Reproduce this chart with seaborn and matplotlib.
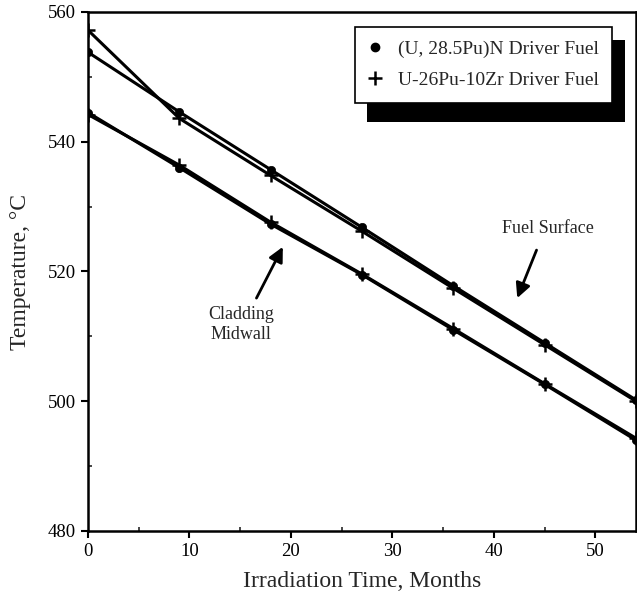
import matplotlib
matplotlib.use("Agg")
import matplotlib.pyplot as plt
from matplotlib.lines import Line2D
from matplotlib.patches import Rectangle
import seaborn as sns
import pandas as pd

months = [0, 9, 18, 27, 36, 45, 54]
surface_nitride = [553.8, 544.6, 535.7, 526.8, 517.8, 509.0, 500.2]
surface_metal = [557.2, 543.6, 534.8, 526.2, 517.4, 508.7, 500.0]
clad_nitride = [544.5, 536.0, 527.3, 519.5, 511.0, 502.6, 494.0]
clad_metal = [544.2, 536.4, 527.6, 519.6, 511.2, 502.7, 494.3]

fuel_labels = ["(U, 28.5Pu)N Driver Fuel", "U-26Pu-10Zr Driver Fuel"]
x_label = "Irradiation Time, Months"
y_label = "Temperature, \u00b0C"
x_ticks = [0, 10, 20, 30, 40, 50]
y_ticks = [480, 500, 520, 540, 560]

sns.set_theme(style="ticks")
plt.rcParams["font.family"] = ["Liberation Serif", "DejaVu Serif"]

fig = plt.figure(figsize=(6.37, 6.0), dpi=100)
ax = fig.add_axes([88 / 637, 1 - 531 / 600, (636 - 88) / 637, (531 - 12) / 600])

series = [
    (surface_nitride, "o"),
    (surface_metal, "+"),
    (clad_nitride, "o"),
    (clad_metal, "+"),
]
for vals, mk in series:
    df = pd.DataFrame({"t": months, "T": vals})
    sns.lineplot(data=df, x="t", y="T", ax=ax, color="black", linewidth=2.2,
                 marker=mk, markersize=6 if mk == "o" else 10,
                 markeredgewidth=1.8 if mk == "+" else 0.5,
                 markeredgecolor="black", estimator=None)

ax.set_xlim(0, 54)
ax.set_ylim(480, 560)
ax.set_xticks(x_ticks)
ax.set_yticks(y_ticks)
ax.set_xticks([5, 15, 25, 35, 45], minor=True)
ax.set_yticks([490, 510, 530, 550], minor=True)
ax.tick_params(axis="both", which="major", direction="out", length=5, width=1.5,
               labelsize=13.5, colors="black")
ax.tick_params(axis="both", which="minor", direction="in", length=3, width=1.2)
for s in ax.spines.values():
    s.set_linewidth(1.8)
    s.set_color("black")
ax.set_xlabel(x_label, fontsize=17, labelpad=8)
ax.set_ylabel(y_label, fontsize=17, labelpad=12)

handles = [
    Line2D([], [], color="black", marker="o", linestyle="none", markersize=6),
    Line2D([], [], color="black", marker="+", linestyle="none", markersize=10, markeredgewidth=1.8),
]
leg = ax.legend(handles, fuel_labels, loc="upper left",
                bbox_to_anchor=(0.487, 0.972), frameon=True, fancybox=False,
                fontsize=14, handlelength=0.7, handletextpad=0.8,
                borderpad=0.7, labelspacing=0.7, borderaxespad=0)
leg.get_frame().set_edgecolor("black")
leg.get_frame().set_linewidth(1.2)
leg.get_frame().set_alpha(1)
leg.set_zorder(6)
ax.add_patch(Rectangle((0.509, 0.788), 0.471, 0.158, transform=ax.transAxes,
                       facecolor="black", edgecolor="none", zorder=5.5))

ax.text(45.3, 526.7, "Fuel Surface", ha="center", va="center", fontsize=13)
ax.annotate("", xy=(42.3, 515.9), xytext=(44.2, 523.3),
            arrowprops=dict(arrowstyle="-|>", color="black", lw=2,
                            mutation_scale=22, shrinkA=0, shrinkB=0))
ax.text(15.1, 511.8, "Cladding\nMidwall", ha="center", va="center", fontsize=13,
        linespacing=1.2)
ax.annotate("", xy=(19.2, 523.8), xytext=(16.6, 515.9),
            arrowprops=dict(arrowstyle="-|>", color="black", lw=2,
                            mutation_scale=22, shrinkA=0, shrinkB=0))

fig.savefig("out.png", dpi=100)
